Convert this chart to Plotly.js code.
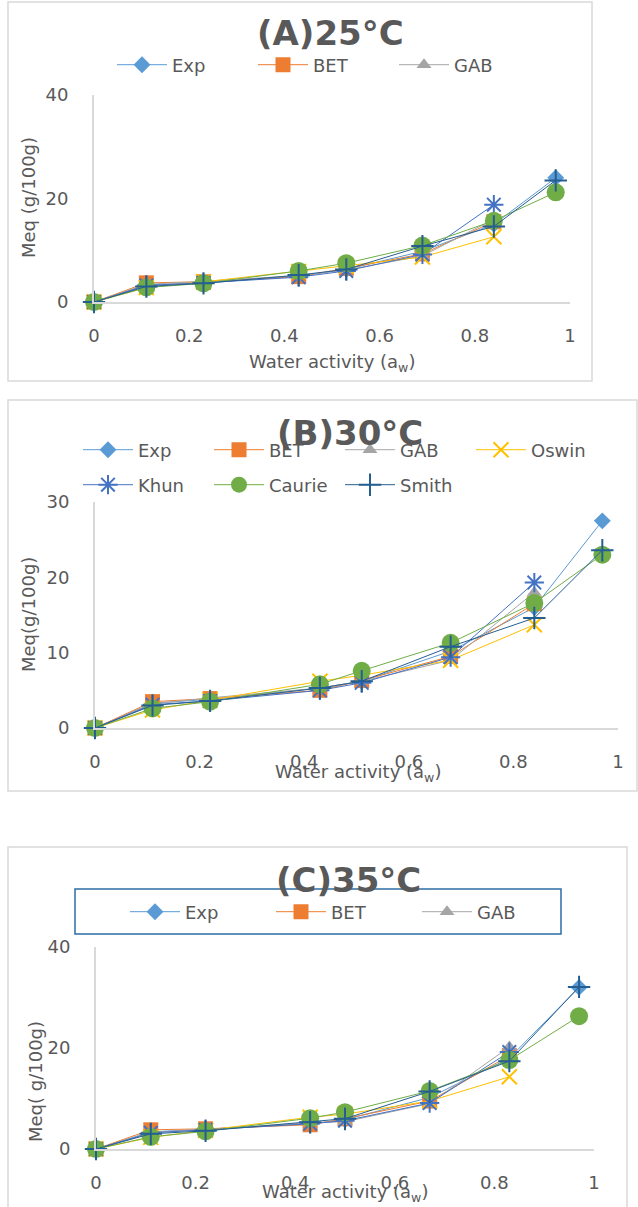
<!DOCTYPE html>
<html><head><meta charset="utf-8">
<script src="https://cdn.plot.ly/plotly-3.0.1.min.js"></script>
<style>html,body{margin:0;padding:0;background:#fff;}#chart{width:638px;height:1207px;}</style>
</head><body><div id="chart"></div>
<script>
// ---------- data ----------
const seriesNames = ["Exp", "BET", "GAB", "Oswin", "Khun", "Caurie", "Smith"];

const aw25 = [0, 0.11, 0.23, 0.43, 0.53, 0.69, 0.84, 0.97];
const exp25 = [0, 3.3, 3.7, 5.0, 6.3, 9.8, 15.0, 24.0];
const bet25 = [0, 3.7, 3.9, 4.9, 6.5, 9.3, 15.5, null];
const gab25 = [0, 3.4, 4.0, 5.1, 6.2, 8.9, 16.0, null];
const oswin25 = [0, 2.8, 3.9, 5.9, 7.0, 8.7, 12.6, null];
const khun25 = [0, 3.2, 3.7, 4.8, 6.0, 9.2, 18.8, null];
const caurie25 = [0, 2.8, 3.6, 6.0, 7.5, 10.9, 15.7, 21.2];
const smith25 = [0, 3.0, 3.6, 5.2, 6.3, 10.8, 14.6, 23.5];

const aw30 = [0, 0.11, 0.22, 0.43, 0.51, 0.68, 0.84, 0.97];
const exp30 = [0, 3.3, 3.8, 5.3, 6.2, 10.2, 16.0, 27.5];
const bet30 = [0, 3.5, 3.9, 5.0, 6.3, 9.5, 16.5, null];
const gab30 = [0, 3.2, 4.0, 5.3, 6.2, 9.0, 18.0, null];
const oswin30 = [0, 2.4, 3.7, 6.2, 7.0, 9.0, 13.7, null];
const khun30 = [0, 3.1, 3.6, 5.0, 6.0, 9.4, 19.3, null];
const caurie30 = [0, 2.6, 3.5, 5.8, 7.6, 11.3, 16.6, 23.0];
const smith30 = [0, 3.0, 3.6, 5.3, 6.2, 10.8, 14.6, 23.6];

const aw35 = [0, 0.11, 0.22, 0.43, 0.50, 0.67, 0.83, 0.97];
const exp35 = [0, 3.4, 3.9, 5.0, 5.8, 10.2, 18.0, 32.0];
const bet35 = [0, 3.8, 4.0, 4.8, 6.0, 9.5, 18.5, null];
const gab35 = [0, 3.3, 3.9, 5.2, 5.4, 9.0, 20.2, null];
const oswin35 = [0, 2.3, 3.7, 6.3, 6.9, 9.5, 14.3, null];
const khun35 = [0, 3.2, 3.8, 5.0, 5.6, 9.1, 19.2, null];
const caurie35 = [0, 2.4, 3.5, 6.1, 7.3, 11.5, 17.6, 26.3];
const smith35 = [0, 3.0, 3.6, 5.3, 6.0, 11.4, 17.4, 32.1];

const xTickVals = [0, 0.2, 0.4, 0.6, 0.8, 1];
const xTickText = ["0", "0.2", "0.4", "0.6", "0.8", "1"];
const yTickVals25 = [0, 20, 40];
const yTickVals30 = [0, 10, 20, 30];
const yTickVals35 = [0, 20, 40];
const panelTitles = ["(A)25°C", "(B)30°C", "(C)35°C"];
const yTitles = ["Meq (g/100g)", "Meq(g/100g)", "Meq( g/100g)"];
const xTitleText = "Water activity (a<sub>w</sub>)";

// ---------- styling ----------
const W = 638, H = 1207;
const px = x => x / W;
const py = y => 1 - y / H;
const FONT = "'DejaVu Sans', sans-serif";
const TXT = "#595959";
const AXC = "#d9d9d9";
const colors = ["#5b9bd5", "#ed7d31", "#a5a5a5", "#ffc000", "#4472c4", "#70ad47", "#255e91"];
const symbols = ["diamond", "square", "triangle-up", "x-thin-open", "asterisk-open", "circle", "cross-thin-open"];
const sizes = [13, 15, 13, 15, 16, 18, 16];

const panels = [
  {aw: aw25, ys: [exp25, bet25, gab25, oswin25, khun25, caurie25, smith25], yt: yTickVals25, yr: [0, 40],
   plot: {l: 94, r: 570, t: 95, b: 302}, legends: ["legend", "legend", "legend", null, null, null, null]},
  {aw: aw30, ys: [exp30, bet30, gab30, oswin30, khun30, caurie30, smith30], yt: yTickVals30, yr: [0, 30],
   plot: {l: 95, r: 618, t: 502, b: 728}, legends: ["legend2", "legend2", "legend2", "legend2", "legend4", "legend4", "legend4"]},
  {aw: aw35, ys: [exp35, bet35, gab35, oswin35, khun35, caurie35, smith35], yt: yTickVals35, yr: [0, 40],
   plot: {l: 96, r: 594, t: 947, b: 1149}, legends: ["legend3", "legend3", "legend3", null, null, null, null]}
];

const traces = [];
const layout = {
  width: W, height: H, margin: {l: 0, r: 0, t: 0, b: 0},
  paper_bgcolor: "#fff", plot_bgcolor: "rgba(0,0,0,0)",
  font: {family: FONT, color: TXT, size: 18},
  showlegend: true, annotations: [], shapes: []
};

panels.forEach((p, i) => {
  const sfx = i === 0 ? "" : String(i + 1);
  p.ys.forEach((y, k) => {
    const t = {
      type: "scatter", mode: "lines+markers", name: seriesNames[k],
      x: p.aw, y: y, xaxis: "x" + sfx, yaxis: "y" + sfx,
      line: {color: colors[k], width: 1}, connectgaps: false,
      marker: {symbol: symbols[k], size: sizes[k], color: colors[k],
               line: {color: colors[k], width: (k === 3 || k === 4 || k === 6) ? 2 : 0}},
      cliponaxis: false, hoverinfo: "x+y+name"
    };
    if (p.legends[k]) { t.legend = p.legends[k]; t.showlegend = true; }
    else { t.showlegend = false; }
    traces.push(t);
  });
  layout["xaxis" + sfx] = {
    domain: [px(p.plot.l), px(p.plot.r)], range: [0, 1], anchor: "y" + sfx,
    tickvals: xTickVals, ticktext: xTickText, showgrid: false, zeroline: false,
    showline: true, linecolor: AXC, linewidth: 2, ticks: "", ticklabelstandoff: 16,
    tickfont: {size: 18, color: TXT, family: FONT}, fixedrange: true
  };
  layout["yaxis" + sfx] = {
    domain: [py(p.plot.b), py(p.plot.t)], range: p.yr, anchor: "x" + sfx,
    tickvals: p.yt, showgrid: false, zeroline: false,
    showline: true, linecolor: AXC, linewidth: 2, ticks: "", ticklabelstandoff: 20,
    tickfont: {size: 18, color: TXT, family: FONT}, fixedrange: true
  };
});

// panel frames
[[8, 2, 592, 381], [8, 400, 637, 791], [8, 847, 627, 1215]].forEach(b => {
  layout.shapes.push({type: "rect", xref: "paper", yref: "paper", x0: px(b[0]), x1: px(b[2]),
    y0: py(b[3]), y1: py(b[1]), line: {color: AXC, width: 1.5}, layer: "below"});
});
// legend box for panel C
layout.shapes.push({type: "rect", xref: "paper", yref: "paper", x0: px(75), x1: px(561),
  y0: py(934), y1: py(889), line: {color: "#2e6da4", width: 1.5}, layer: "below"});

// titles
[[330, 33], [350, 433], [348, 880]].forEach((c, i) => {
  layout.annotations.push({xref: "paper", yref: "paper", x: px(c[0]), y: py(c[1]),
    xanchor: "center", yanchor: "middle", showarrow: false, text: "<b>" + panelTitles[i] + "</b>",
    font: {family: FONT, size: 34, color: TXT}});
});
// x titles
[[332, 363], [358, 773], [345, 1193]].forEach(c => {
  layout.annotations.push({xref: "paper", yref: "paper", x: px(c[0]), y: py(c[1]),
    xanchor: "center", yanchor: "middle", showarrow: false, text: xTitleText,
    font: {family: FONT, size: 18, color: TXT}});
});
// y titles
[[28, 198], [28, 615], [35, 1082]].forEach((c, i) => {
  layout.annotations.push({xref: "paper", yref: "paper", x: px(c[0]), y: py(c[1]),
    xanchor: "center", yanchor: "middle", showarrow: false, textangle: -90, text: yTitles[i],
    font: {family: FONT, size: 18, color: TXT}});
});

const legBase = {orientation: "h", xanchor: "left", yanchor: "middle", bgcolor: "rgba(0,0,0,0)",
  borderwidth: 0, font: {family: FONT, size: 18, color: TXT}, itemwidth: 50,
  entrywidthmode: "pixels", itemclick: false, itemdoubleclick: false};
layout.legend = Object.assign({}, legBase, {x: px(112), y: py(65), entrywidth: 76});
layout.legend2 = Object.assign({}, legBase, {x: px(78), y: py(450), entrywidth: 66});
layout.legend4 = Object.assign({}, legBase, {x: px(78), y: py(485), entrywidth: 66});
layout.legend3 = Object.assign({}, legBase, {x: px(125), y: py(912), entrywidth: 81});

Plotly.newPlot("chart", traces, layout, {displayModeBar: false, staticPlot: true});
</script>
</body></html>
